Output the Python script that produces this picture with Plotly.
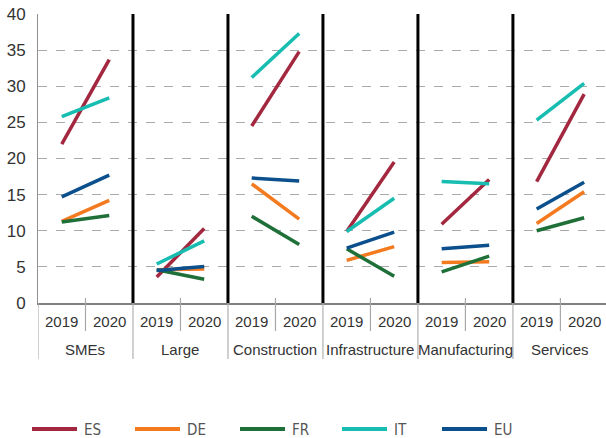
import plotly.graph_objects as go

# Sectors and survey years
sectors = ["SMEs", "Large", "Construction", "Infrastructure", "Manufacturing", "Services"]
years = ["2019", "2020"]

# Values per country: (2019, 2020) for each sector in order
es = [22.0, 33.7, 3.6, 10.3, 24.5, 34.8, 9.9, 19.5, 10.9, 17.1, 16.8, 28.9]
de = [11.3, 14.2, 4.6, 4.7, 16.5, 11.6, 5.9, 7.8, 5.6, 5.7, 11.0, 15.4]
fr = [11.2, 12.1, 4.6, 3.3, 12.0, 8.1, 7.5, 3.7, 4.3, 6.5, 10.0, 11.8]
it = [25.8, 28.4, 5.4, 8.6, 31.2, 37.3, 9.9, 14.5, 16.8, 16.5, 25.3, 30.4]
eu = [14.7, 17.7, 4.5, 5.05, 17.3, 16.9, 7.6, 9.8, 7.5, 8.0, 13.0, 16.7]

countries = ["ES", "DE", "FR", "IT", "EU"]
series = [es, de, fr, it, eu]
colors = ["#a3283f", "#f47a20", "#1e7038", "#16bdb0", "#0b4f8c"]

W, H = 606, 438
ML, MR, MT, MB = 38, 0, 14, 135
PW, PH = W - ML - MR, H - MT - MB


def px_x(px):
    return (px - ML) / PW


def px_y(py):
    return (H - MB - py) / PH


fig = go.Figure()

# one trace per country, with a break between sectors
for name, vals, col in zip(countries, series, colors):
    xs, ys = [], []
    for g in range(len(sectors)):
        for k in range(len(years)):
            xs.append(2 * g + k + 0.5)
            ys.append(vals[2 * g + k])
        xs.append(None)
        ys.append(None)
    fig.add_trace(go.Scatter(x=xs, y=ys, mode="lines", name=name,
                             line=dict(color=col, width=3.5),
                             showlegend=False, hoverinfo="skip"))

shapes = []
annotations = []
font = dict(family="Liberation Sans, Arial, sans-serif", size=15, color="#333333")

# thick separators between sectors
for g in range(1, len(sectors)):
    shapes.append(dict(type="line", xref="x", yref="y", x0=2 * g, x1=2 * g,
                       y0=0, y1=40, line=dict(color="#000000", width=3), layer="above"))

# divider lines in the category axis area
for g in range(len(sectors)):
    shapes.append(dict(type="line", xref="x", yref="paper", x0=2 * g, x1=2 * g,
                       y0=0, y1=px_y(359), line=dict(color="#b0b0b0", width=1.2)))
    shapes.append(dict(type="line", xref="x", yref="paper", x0=2 * g + 1, x1=2 * g + 1,
                       y0=px_y(298), y1=px_y(331), line=dict(color="#a8a8a8", width=1.2)))
    for k, yr in enumerate(years):
        annotations.append(dict(x=2 * g + k + 0.5, y=px_y(322), xref="x", yref="paper",
                                text=yr, showarrow=False, font=font,
                                xanchor="center", yanchor="middle"))
    annotations.append(dict(x=2 * g + 1, y=px_y(349), xref="x", yref="paper",
                            text=sectors[g], showarrow=False, font=font,
                            xanchor="center", yanchor="middle"))

# legend drawn below the chart
leg_x = [32, 135, 240, 342, 442]
for name, col, lx in zip(countries, colors, leg_x):
    shapes.append(dict(type="line", xref="paper", yref="paper",
                       x0=px_x(lx), x1=px_x(lx + 45), y0=px_y(429), y1=px_y(429),
                       line=dict(color=col, width=4)))
    annotations.append(dict(x=px_x(lx + 50), y=px_y(430), xref="paper", yref="paper",
                            text=name, showarrow=False,
                            font=dict(family="DejaVu Sans Condensed, sans-serif",
                                      size=15, color="#555555"),
                            xanchor="left", yanchor="middle"))

fig.update_layout(
    width=W, height=H,
    margin=dict(l=ML, r=MR, t=MT, b=MB, pad=0),
    paper_bgcolor="white", plot_bgcolor="white",
    showlegend=False,
    shapes=shapes, annotations=annotations,
    xaxis=dict(range=[0, 11.96], showgrid=False, zeroline=False, showticklabels=False,
               showline=True, linecolor="#808080", linewidth=2, ticks="", fixedrange=True),
    yaxis=dict(range=[0, 40], tickvals=list(range(0, 41, 5)), showgrid=True,
               gridcolor="#aaaaaa", griddash="dash", gridwidth=1, zeroline=False,
               showline=True, linecolor="#909090", linewidth=1, ticks="",
               ticklabelstandoff=8, tickfont=dict(family="Liberation Sans, Arial, sans-serif",
                                                   size=17, color="#333333"),
               fixedrange=True),
)

fig.write_html("out.html", config={"displayModeBar": False})
